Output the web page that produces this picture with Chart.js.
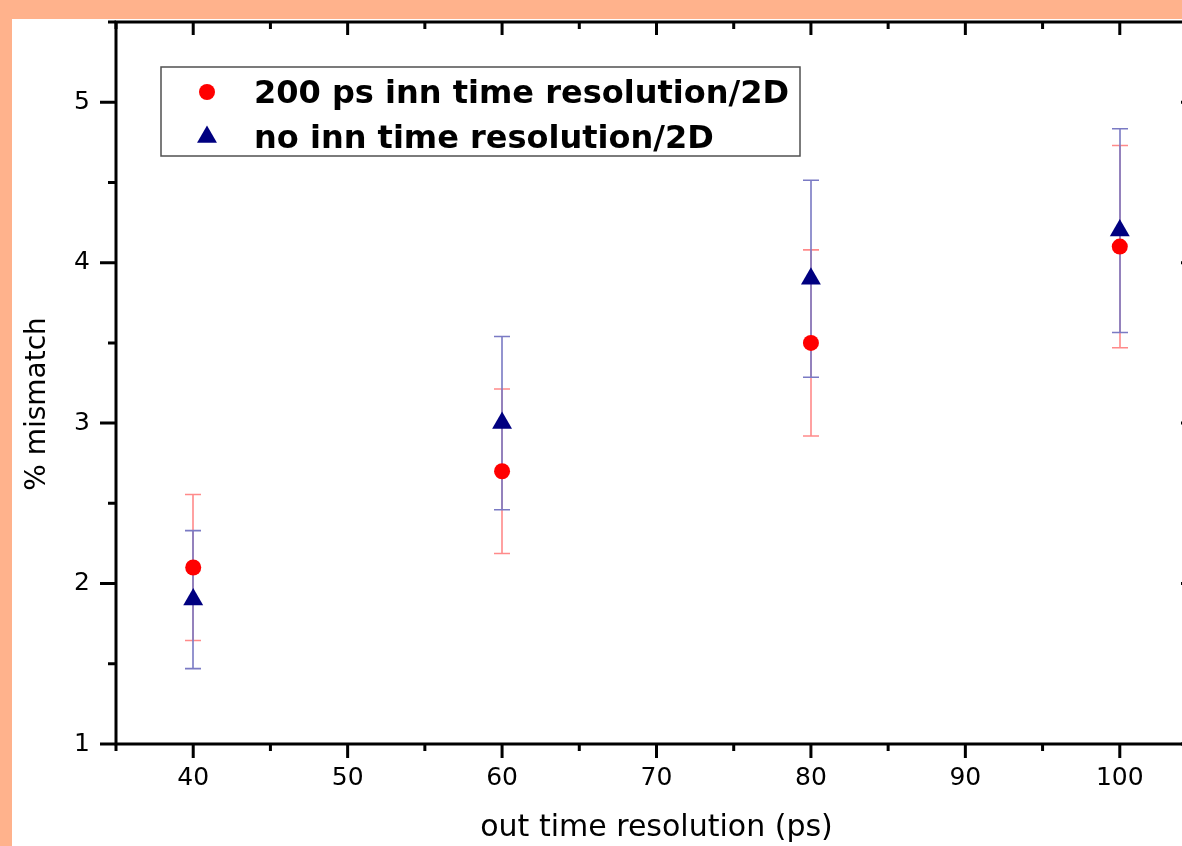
<!DOCTYPE html>
<html>
<head>
<meta charset="utf-8">
<title>% mismatch vs out time resolution</title>
<script src="https://cdn.jsdelivr.net/npm/chart.js@4.4.1/dist/chart.umd.min.js"></script>
<style>
    html, body { margin: 0; padding: 0; width: 1182px; height: 846px; overflow: hidden; background: #ffb28c; }
    #frame { position: absolute; left: 12px; top: 19px; width: 1205px; height: 827px; background: #fff; }
</style>
</head>
<body>
<div id="frame"><canvas id="chart" width="1205" height="827"></canvas></div>
<script>
// data
const xValues = [40, 60, 80, 100];
const innResValues = [2.1, 2.7, 3.5, 4.1];
const innResErrors = [0.455, 0.513, 0.58, 0.63];
const noInnValues = [1.9, 3.0, 3.9, 4.2];
const noInnErrors = [0.43, 0.54, 0.614, 0.635];
const seriesLabels = ['200 ps inn time resolution/2D', 'no inn time resolution/2D'];

// axes
const xTicks = [40, 50, 60, 70, 80, 90, 100];
const xMinorTicks = [35, 45, 55, 65, 75, 85, 95, 105];
const yTicks = [1, 2, 3, 4, 5];
const yMinorTicks = [1.5, 2.5, 3.5, 4.5, 5.5];

const FONT = 'DejaVu Sans';

function points(vals, errs) {
    return xValues.map((x, i) => ({ x: x, y: vals[i], err: errs[i] }));
}

// error bars, drawn under the markers
const errorBars = {
    id: 'errorBars',
    beforeDatasetsDraw(chart) {
        const ctx = chart.ctx, xs = chart.scales.x, ys = chart.scales.y;
        chart.data.datasets.forEach(ds => {
            ctx.save();
            ctx.strokeStyle = ds.barColor;
            ctx.lineWidth = 1.6;
            ds.data.forEach(p => {
                const px = Math.round(xs.getPixelForValue(p.x));
                const top = ys.getPixelForValue(p.y + p.err);
                const bot = ys.getPixelForValue(p.y - p.err);
                ctx.beginPath();
                ctx.moveTo(px, top); ctx.lineTo(px, bot);
                ctx.moveTo(px - 8, top); ctx.lineTo(px + 8, top);
                ctx.moveTo(px - 8, bot); ctx.lineTo(px + 8, bot);
                ctx.stroke();
            });
            ctx.restore();
        });
    }
};

// box frame with ticks on all four sides + y title
const frame = {
    id: 'frame',
    afterDraw(chart) {
        const ctx = chart.ctx, a = chart.chartArea, xs = chart.scales.x, ys = chart.scales.y;
        ctx.save();
        ctx.strokeStyle = '#000';
        ctx.lineWidth = 3;
        ctx.beginPath();
        ctx.rect(a.left, a.top, a.right - a.left, a.bottom - a.top);
        ctx.stroke();
        ctx.beginPath();
        xTicks.forEach(v => {
            const px = xs.getPixelForValue(v);
            ctx.moveTo(px, a.bottom); ctx.lineTo(px, a.bottom + 14);
            ctx.moveTo(px, a.top); ctx.lineTo(px, a.top + 13);
        });
        xMinorTicks.forEach(v => {
            const px = xs.getPixelForValue(v);
            ctx.moveTo(px, a.bottom); ctx.lineTo(px, a.bottom + 7);
            ctx.moveTo(px, a.top); ctx.lineTo(px, a.top + 7);
        });
        yTicks.forEach(v => {
            const py = ys.getPixelForValue(v);
            ctx.moveTo(a.left - 16, py); ctx.lineTo(a.left, py);
            ctx.moveTo(a.right - 16, py); ctx.lineTo(a.right, py);
        });
        yMinorTicks.forEach(v => {
            const py = ys.getPixelForValue(v);
            ctx.moveTo(a.left - 8, py); ctx.lineTo(a.left, py);
            ctx.moveTo(a.right - 8, py); ctx.lineTo(a.right, py);
        });
        ctx.stroke();

        ctx.translate(25.5, 385);
        ctx.rotate(-Math.PI / 2);
        ctx.fillStyle = '#000';
        ctx.font = '28px "' + FONT + '"';
        ctx.textAlign = 'center';
        ctx.textBaseline = 'middle';
        ctx.fillText('% mismatch', 0, 0);
        ctx.restore();
    }
};

// legend box inside the plot, top left
const legendBox = {
    id: 'legendBox',
    afterDraw(chart) {
        const ctx = chart.ctx, a = chart.chartArea;
        const bx = a.left + 45, by = a.top + 45;
        ctx.save();
        ctx.fillStyle = '#fff';
        ctx.fillRect(bx, by, 639, 89);
        ctx.strokeStyle = '#505050';
        ctx.lineWidth = 1.5;
        ctx.strokeRect(bx, by, 639, 89);
        ctx.font = 'bold 32px "' + FONT + '"';
        ctx.textBaseline = 'alphabetic';
        ctx.textAlign = 'left';
        chart.data.datasets.forEach((ds, i) => {
            const cy = by + 25 + i * 45;
            ctx.fillStyle = ds.backgroundColor;
            ctx.strokeStyle = ds.backgroundColor;
            Chart.helpers.drawPoint(ctx, { pointStyle: ds.pointStyle, radius: ds.pointRadius, rotation: 0, borderWidth: 0 }, bx + 46, cy);
            ctx.fillStyle = '#000';
            ctx.fillText(ds.label, bx + 93, cy + 11);
        });
        ctx.restore();
    }
};

new Chart(document.getElementById('chart'), {
    type: 'scatter',
    data: {
        datasets: [
            {
                label: seriesLabels[0],
                data: points(innResValues, innResErrors),
                pointStyle: 'circle',
                pointRadius: 8,
                backgroundColor: '#ff0000',
                borderColor: '#ff0000',
                borderWidth: 0,
                barColor: '#ff8a8a'
            },
            {
                label: seriesLabels[1],
                data: points(noInnValues, noInnErrors),
                pointStyle: 'triangle',
                pointRadius: 11.5,
                backgroundColor: '#000080',
                borderColor: '#000080',
                borderWidth: 0,
                barColor: '#7a7ac4'
            }
        ]
    },
    options: {
        responsive: false,
        animation: false,
        events: [],
        layout: { autoPadding: false, padding: { top: 3, right: 20, left: 0, bottom: 0 } },
        plugins: { legend: { display: false }, tooltip: { enabled: false } },
        scales: {
            x: {
                type: 'linear',
                min: 35,
                max: 105,
                afterBuildTicks: s => { s.ticks = xTicks.map(v => ({ value: v })); },
                afterFit: s => { s.height = 102; s.paddingLeft = 0; s.paddingRight = 0; },
                grid: { display: false, drawTicks: false },
                border: { display: false },
                ticks: { padding: 19, color: '#000', font: { family: FONT, size: 25 } },
                title: {
                    display: true,
                    text: 'out time resolution (ps)',
                    color: '#000',
                    font: { family: FONT, size: 30 },
                    padding: { top: 0, bottom: 0 }
                }
            },
            y: {
                min: 1,
                max: 5.5,
                afterBuildTicks: s => { s.ticks = yTicks.map(v => ({ value: v })); },
                afterFit: s => { s.width = 104; s.paddingTop = 0; s.paddingBottom = 0; },
                grid: { display: false, drawTicks: false },
                border: { display: false },
                ticks: { padding: 26, color: '#000', font: { family: FONT, size: 25 } }
            }
        }
    },
    plugins: [errorBars, frame, legendBox]
});
</script>
</body>
</html>
